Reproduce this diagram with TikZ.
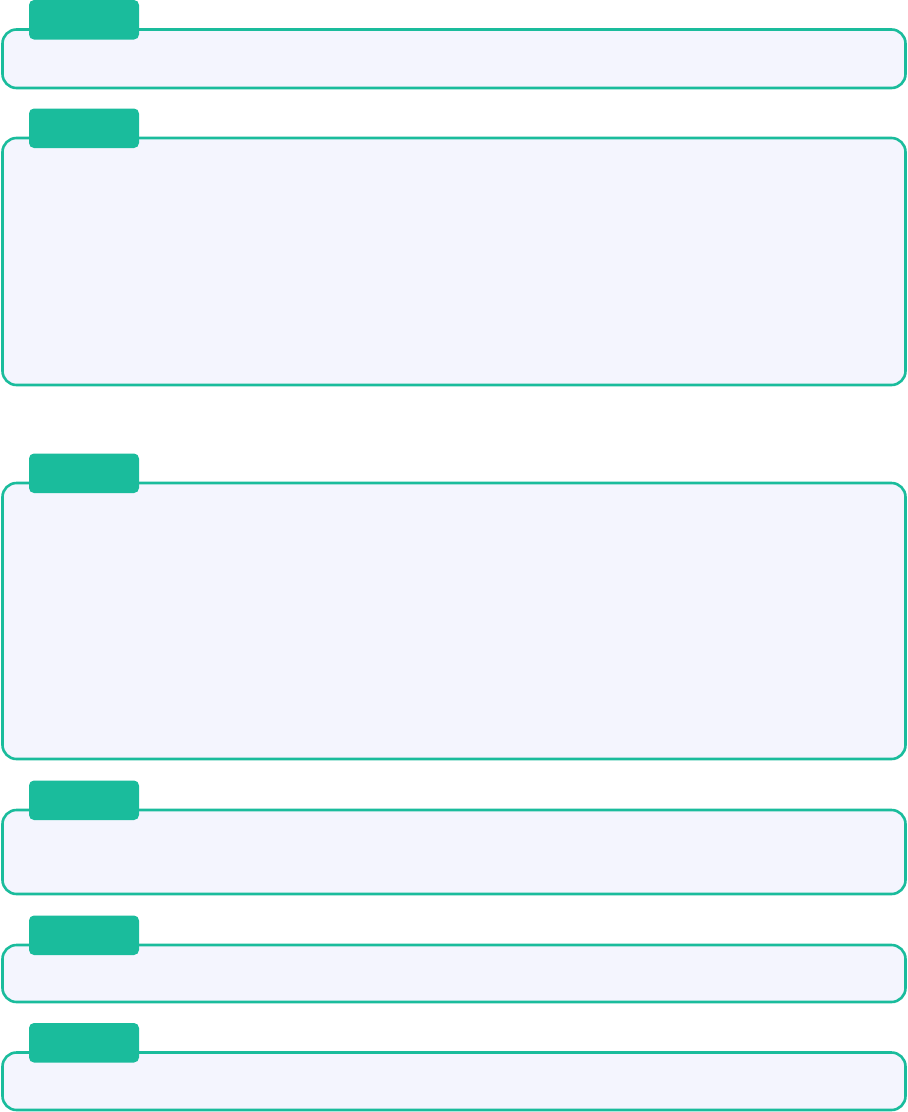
\documentclass[tikz,border=0pt]{standalone}
\usetikzlibrary{positioning}
\definecolor{teal1}{HTML}{1ABC9C}
\definecolor{panel}{HTML}{F4F5FE}
\tikzset{
  panelbox/.style={draw=teal1, line width=2.6pt, fill=panel, rounded corners=14pt},
  tabbox/.style={fill=teal1, rounded corners=5pt}
}
\begin{document}
\begin{tikzpicture}[x=1pt,y=-1pt]
\useasboundingbox (0,0) rectangle (908,1112);
\foreach \t/\b [count=\i] in {29.5/88, 138/385, 483/759, 810/894, 945/1002, 1052.5/1110}{
  \draw[panelbox] (2.5,\t) rectangle (905.5,\b);
  \path[tabbox] (29,\t-29.5) rectangle (139,\t+10);
}
\end{tikzpicture}
\end{document}
